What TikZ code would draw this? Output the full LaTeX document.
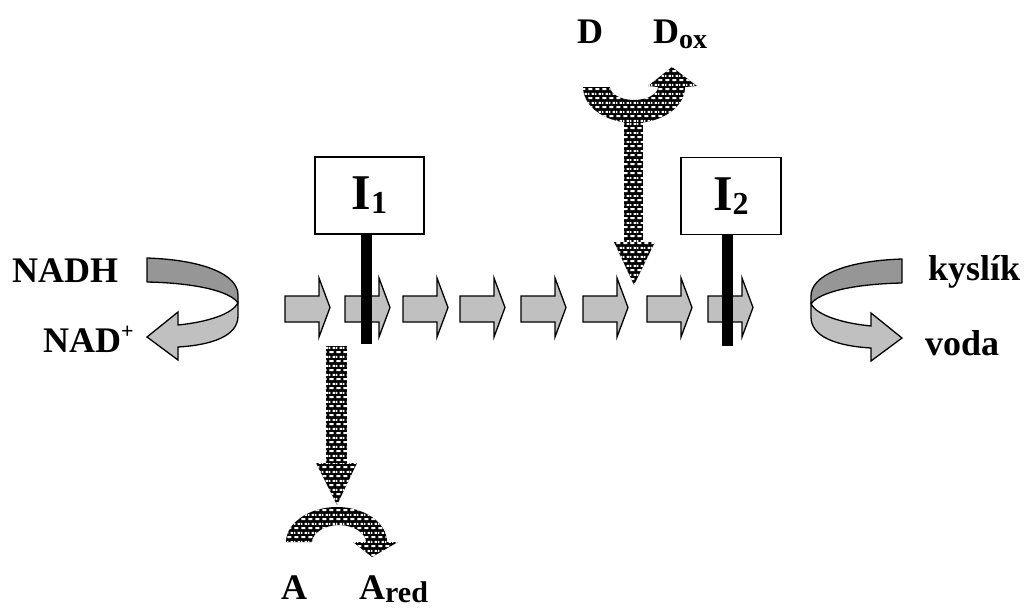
\documentclass[tikz,border=0pt]{standalone}
\usepackage{fontspec}
\setmainfont{Liberation Serif}
\usetikzlibrary{patterns}
\pgfdeclarepatternformonly{whitebricks}{\pgfqpoint{0pt}{0pt}}{\pgfqpoint{7pt}{8.6pt}}{\pgfqpoint{7pt}{8.6pt}}{%
  \pgfpathrectangle{\pgfqpoint{0.5pt}{1pt}}{\pgfqpoint{4.5pt}{2pt}}%
  \pgfpathrectangle{\pgfqpoint{4pt}{5.3pt}}{\pgfqpoint{3pt}{2pt}}%
  \pgfpathrectangle{\pgfqpoint{0pt}{5.3pt}}{\pgfqpoint{1.5pt}{2pt}}%
  \pgfusepath{fill}}
\definecolor{lgray}{HTML}{C0C0C0}
\definecolor{dgray}{HTML}{969696}
\newcommand{\ribbonshape}{%
  \draw[ribdark] (147,258) .. controls (205,260) and (238,275) .. (238,295)
    -- (238,303) .. controls (230,291) and (195,283) .. (147,282) -- cycle;
  \draw[riblight] (238,303) -- (238,316) .. controls (238,336) and (212,345) .. (178,347)
    -- (178,360) -- (147,337) -- (178,312) -- (178,325)
    .. controls (208,322) and (232,314) .. (238,303) -- cycle;
}
\begin{document}
\begin{tikzpicture}[x=1pt,y=-1pt,
  chainarrow/.style={fill=lgray,draw=black,line width=1.3pt,line join=miter},
  ribdark/.style={fill=dgray,draw=black,line width=1.3pt,line join=round},
  riblight/.style={fill=lgray,draw=black,line width=1.3pt,line join=miter},
  pat/.style={preaction={fill=black},pattern=whitebricks,pattern color=white},
  bar/.style={fill=black},
  ibox/.style={draw=black,line width=1.5pt,fill=white,minimum width=109pt,minimum height=77pt,
    inner sep=0pt,font=\fontsize{50}{50}\selectfont\bfseries},
  lbl/.style={font=\fontsize{36}{40}\selectfont\bfseries,inner sep=0pt,anchor=base west}]
\useasboundingbox (0,0) rectangle (1025,608);

% chain of grey arrows
\foreach \x in {285,345,403,460,521,583,647,708}{
  \draw[chainarrow] (\x,296) -- (\x+34,296) -- (\x+34,278) -- (\x+45,307.5)
    -- (\x+34,337) -- (\x+34,322) -- (\x,322) -- cycle;
}

% inhibitor bars and boxes
\node[ibox] (i1) at (369.5,195.5) {I\raisebox{-4pt}{\fontsize{32}{32}\selectfont 1}};
\node[ibox,minimum width=100pt] (i2) at (731,196) {I\raisebox{-4pt}{\fontsize{32}{32}\selectfont 2}};
\fill[bar] (i1.south -| 361,0) rectangle (372,344);
\fill[bar] (i2.south -| 722,0) rectangle (733,346);

% ribbon arrows
\ribbonshape
\begin{scope}[shift={(1049,1)},xscale=-1]
\ribbonshape
\end{scope}

% donor arrow (D -> Dox)
\path[pat] (624,110) rectangle (643,243);
\path[pat] (614,242) -- (655,242) -- (634,285) -- cycle;
\path[pat] (583,87) .. controls (583,107) and (606,123) .. (634,123)
  .. controls (662,123) and (685,107) .. (685,87) -- (697,86) -- (672,67) -- (648,86)
  -- (658,87) .. controls (658,94) and (647,100) .. (634,100)
  .. controls (621,100) and (610,94) .. (610,87) -- cycle;

% acceptor arrow (A -> Ared)
\path[pat] (326,346) rectangle (347,464);
\path[pat] (316,463) -- (357,463) -- (337,505) -- cycle;
\path[pat] (286,542) .. controls (286,523) and (309,507) .. (337,507)
  .. controls (365,507) and (387,523) .. (387,542) -- (398,542) -- (372,557) -- (353,542)
  -- (366,542) .. controls (366,533) and (353,525) .. (339,525)
  .. controls (325,525) and (312,533) .. (312,542) -- cycle;

% labels
\node[lbl] (nadh) at (12,282) {NADH};
\node[lbl] (nad) at (43,352) {NAD\raisebox{14pt}{\fontsize{22}{22}\selectfont +}};
\node[lbl] (kys) at (928,280) {kyslík};
\node[lbl] (voda) at (925,355) {voda};
\node[lbl] (d) at (577,43) {D};
\node[lbl] (dox) at (653,43) {D\raisebox{-5pt}{\fontsize{28}{28}\selectfont ox}};
\node[lbl] (a) at (281,599) {A};
\node[lbl] (ared) at (359,599) {A\raisebox{-3pt}{\fontsize{30}{30}\selectfont red}};
\end{tikzpicture}
\end{document}
